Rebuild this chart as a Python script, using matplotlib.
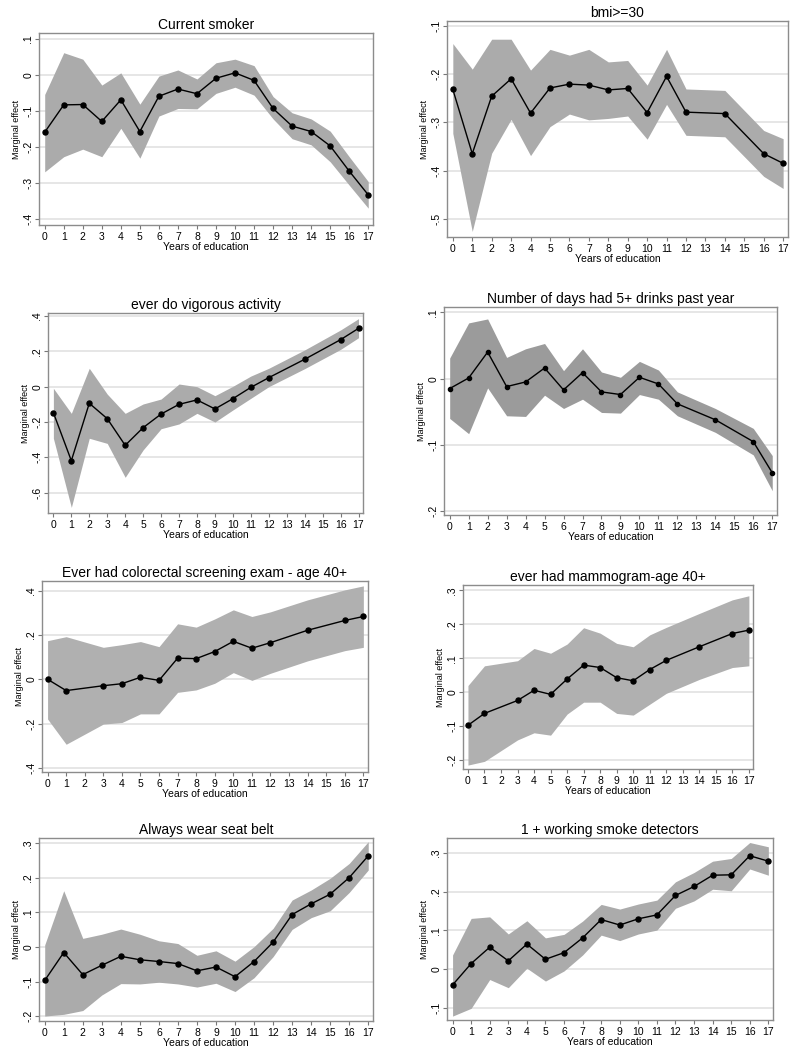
import numpy as np
import matplotlib
matplotlib.use('Agg')
import matplotlib.pyplot as plt
from matplotlib.ticker import FuncFormatter

plt.rcParams['font.family'] = ['Liberation Sans', 'DejaVu Sans']

years_all = list(range(18))
years_gap = [0, 1, 2, 3, 4, 5, 6, 7, 8, 9, 10, 11, 12, 14, 16, 17]
years_gap2 = [0, 1, 3, 4, 5, 6, 7, 8, 9, 10, 11, 12, 14, 16, 17]

# current smoker
smk_est = [-0.159, -0.083, -0.082, -0.129, -0.069, -0.157, -0.059, -0.039, -0.052,
           -0.009, 0.006, -0.015, -0.093, -0.142, -0.157, -0.197, -0.267, -0.333]
smk_hi = [-0.054, 0.062, 0.044, -0.028, 0.006, -0.081, -0.003, 0.014, -0.011,
          0.034, 0.044, 0.026, -0.060, -0.105, -0.122, -0.156, -0.227, -0.296]
smk_lo = [-0.269, -0.227, -0.206, -0.227, -0.148, -0.231, -0.114, -0.093, -0.094,
          -0.051, -0.034, -0.056, -0.122, -0.177, -0.194, -0.241, -0.306, -0.370]

# bmi>=30
bmi_est = [-0.232, -0.365, -0.246, -0.210, -0.281, -0.229, -0.221, -0.223, -0.233,
           -0.230, -0.280, -0.205, -0.279, -0.282, -0.365, -0.385]
bmi_hi = [-0.137, -0.190, -0.128, -0.128, -0.192, -0.149, -0.161, -0.149, -0.175,
          -0.172, -0.223, -0.149, -0.231, -0.234, -0.317, -0.334]
bmi_lo = [-0.323, -0.526, -0.364, -0.294, -0.369, -0.309, -0.283, -0.295, -0.292,
          -0.287, -0.335, -0.263, -0.327, -0.330, -0.412, -0.437]

# ever do vigorous activity
vig_est = [-0.147, -0.419, -0.094, -0.181, -0.332, -0.232, -0.155, -0.100, -0.075,
           -0.126, -0.068, -0.004, 0.051, 0.155, 0.266, 0.330]
vig_hi = [-0.009, -0.151, 0.104, -0.042, -0.151, -0.098, -0.070, 0.015, 0.000,
          -0.051, 0.002, 0.060, 0.104, 0.208, 0.321, 0.385]
vig_lo = [-0.292, -0.683, -0.292, -0.321, -0.513, -0.358, -0.238, -0.211, -0.151,
          -0.200, -0.132, -0.066, 0.000, 0.102, 0.211, 0.277]

# number of days had 5+ drinks
drk_est = [-0.015, 0.001, 0.040, -0.012, -0.005, 0.016, -0.017, 0.009, -0.020,
           -0.024, 0.002, -0.008, -0.038, -0.062, -0.095, -0.142]
drk_hi = [0.031, 0.084, 0.090, 0.032, 0.045, 0.053, 0.012, 0.045, 0.010,
          0.002, 0.026, 0.013, -0.020, -0.045, -0.075, -0.116]
drk_lo = [-0.060, -0.083, -0.014, -0.056, -0.057, -0.025, -0.045, -0.031, -0.051,
          -0.052, -0.024, -0.031, -0.056, -0.081, -0.115, -0.169]

# colorectal screening
col_est = [0.000, -0.051, -0.029, -0.020, 0.009, -0.005, 0.095, 0.093, 0.125,
           0.171, 0.140, 0.165, 0.221, 0.265, 0.283]
col_hi = [0.174, 0.192, 0.144, 0.156, 0.170, 0.147, 0.250, 0.235, 0.272,
          0.313, 0.283, 0.304, 0.358, 0.403, 0.421]
col_lo = [-0.179, -0.293, -0.202, -0.195, -0.156, -0.156, -0.059, -0.048, -0.018,
          0.030, -0.005, 0.027, 0.083, 0.129, 0.144]

# mammogram
mam_est = [-0.097, -0.062, -0.024, 0.006, -0.006, 0.039, 0.080, 0.073, 0.043,
           0.034, 0.067, 0.094, 0.134, 0.173, 0.183]
mam_hi = [0.020, 0.078, 0.093, 0.129, 0.115, 0.142, 0.190, 0.174, 0.144,
          0.134, 0.169, 0.191, 0.232, 0.272, 0.284]
mam_lo = [-0.214, -0.203, -0.140, -0.119, -0.126, -0.064, -0.029, -0.029, -0.062,
          -0.067, -0.035, -0.003, 0.038, 0.073, 0.078]

# seat belt
belt_est = [-0.097, -0.016, -0.080, -0.053, -0.027, -0.037, -0.042, -0.048, -0.069,
            -0.058, -0.086, -0.042, 0.014, 0.094, 0.125, 0.153, 0.201, 0.264]
belt_hi = [0.006, 0.163, 0.025, 0.037, 0.052, 0.037, 0.018, 0.010, -0.024,
           -0.011, -0.041, 0.001, 0.054, 0.136, 0.165, 0.199, 0.242, 0.305]
belt_lo = [-0.200, -0.195, -0.184, -0.139, -0.106, -0.107, -0.102, -0.107, -0.116,
           -0.105, -0.129, -0.089, -0.028, 0.051, 0.085, 0.105, 0.158, 0.223]

# smoke detectors
det_est = [-0.040, 0.015, 0.057, 0.022, 0.065, 0.026, 0.043, 0.081, 0.128,
           0.114, 0.130, 0.140, 0.190, 0.213, 0.242, 0.243, 0.292, 0.278]
det_hi = [0.037, 0.131, 0.135, 0.091, 0.125, 0.081, 0.090, 0.124, 0.167,
          0.155, 0.168, 0.178, 0.225, 0.249, 0.278, 0.285, 0.326, 0.315]
det_lo = [-0.120, -0.100, -0.026, -0.047, 0.003, -0.030, -0.004, 0.037, 0.088,
          0.074, 0.091, 0.101, 0.157, 0.176, 0.206, 0.202, 0.258, 0.242]

panels = [
    ('Current smoker', years_all, smk_est, smk_lo, smk_hi,
     (39, 33, 373, 225), (-0.4167, 0.1167), [-0.4, -0.3, -0.2, -0.1, 0, 0.1], '#ababab', 3.6),
    ('bmi>=30', years_gap, bmi_est, bmi_lo, bmi_hi,
     (447, 21, 788, 237), (-0.5375, -0.0903), [-0.5, -0.4, -0.3, -0.2, -0.1], '#ababab', 3.6),
    ('ever do vigorous activity', years_gap, vig_est, vig_lo, vig_hi,
     (48, 313, 363, 513), (-0.715, 0.417), [-0.6, -0.4, -0.2, 0, 0.2, 0.4], '#ababab', 3.6),
    ('Number of days had 5+ drinks past year', years_gap, drk_est, drk_lo, drk_hi,
     (444, 307, 777, 515), (-0.2056, 0.108), [-0.2, -0.1, 0, 0.1], '#9b9b9b', 3.0),
    ('Ever had colorectal screening exam - age 40+', years_gap2, col_est, col_lo, col_hi,
     (42, 581, 368, 772), (-0.418, 0.443), [-0.4, -0.2, 0, 0.2, 0.4], '#b0b0b0', 3.6),
    ('ever had mammogram-age 40+', years_gap2, mam_est, mam_lo, mam_hi,
     (463, 585, 753, 769), (-0.2255, 0.3157), [-0.2, -0.1, 0, 0.1, 0.2, 0.3], '#b0b0b0', 3.6),
    ('Always wear seat belt', years_all, belt_est, belt_lo, belt_hi,
     (39, 838, 373, 1021), (-0.2143, 0.3157), [-0.2, -0.1, 0, 0.1, 0.2, 0.3], '#ababab', 3.6),
    ('1 + working smoke detectors', years_all, det_est, det_lo, det_hi,
     (447, 838, 773, 1020), (-0.130, 0.3376), [-0.1, 0, 0.1, 0.2, 0.3], '#ababab', 3.6),
]


def stata_fmt(v, pos):
    s = '%g' % round(v, 3)
    if s == '-0':
        s = '0'
    return s.replace('0.', '.')


W, H = 800, 1050
fig = plt.figure(figsize=(8, 10.5), dpi=100)
fig.patch.set_facecolor('white')

for title, x, est, lo, hi, box, ylim, yt, band, ms in panels:
    l, t, r, b = box
    ax = fig.add_axes([l / W, 1 - b / H, (r - l) / W, (b - t) / H])
    ax.fill_between(x, lo, hi, color=band, linewidth=0, zorder=2)
    ax.plot(x, est, color='black', lw=1.0, marker='o', ms=ms, zorder=3)
    ax.set_xlim(-0.3, 17.25)
    ax.set_ylim(*ylim)
    ax.set_yticks(yt)
    ax.set_xticks(range(18))
    ax.yaxis.set_major_formatter(FuncFormatter(stata_fmt))
    for v in yt:
        ax.axhline(v, color='#e4e4e4', lw=1.3, zorder=1)
    for lab in ax.get_yticklabels():
        lab.set_rotation(90)
        lab.set_va('center')
    ax.tick_params(axis='both', labelsize=7.5, length=3, width=0.8, color='#777777', pad=2)
    ax.tick_params(axis='y', pad=1)
    for sp in ax.spines.values():
        sp.set_color('#8c8c8c')
        sp.set_linewidth(1.0)
    ax.set_title(title, fontsize=10, pad=3)
    ax.set_xlabel('Years of education', fontsize=7.5, labelpad=0)
    ax.set_ylabel('Marginal effect', fontsize=6.5, labelpad=2)

fig.savefig('out.png', dpi=100, facecolor='white')
